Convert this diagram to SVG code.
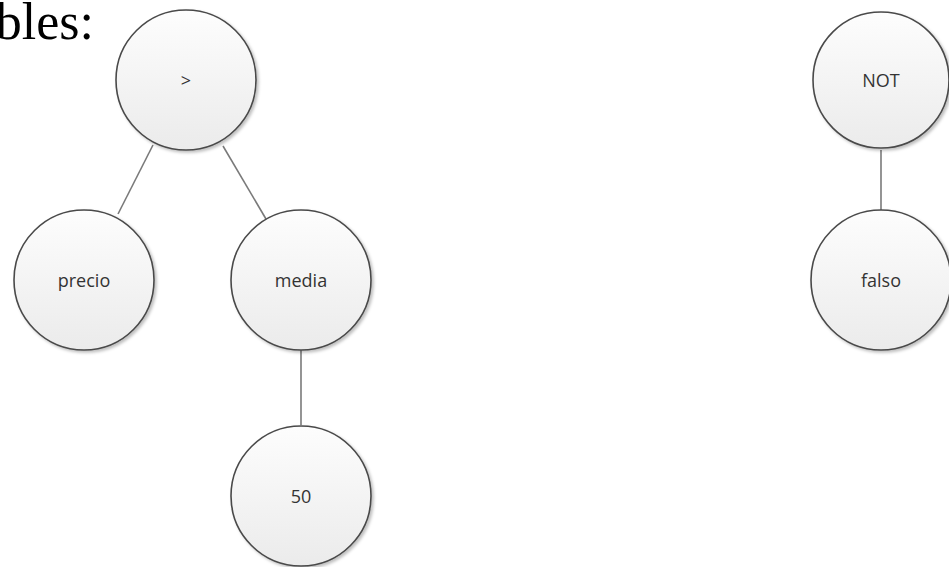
<svg xmlns="http://www.w3.org/2000/svg" width="949" height="567" viewBox="0 0 949 567">
  <defs>
    <linearGradient id="nodeFill" x1="0" y1="0" x2="0" y2="1">
      <stop offset="0" stop-color="#fdfdfd"/>
      <stop offset="1" stop-color="#ebebeb"/>
    </linearGradient>
    <filter id="shade" x="-20%" y="-20%" width="140%" height="140%">
      <feDropShadow dx="2" dy="2" stdDeviation="1.5" flood-color="#000" flood-opacity="0.25"/>
    </filter>
  </defs>
  <style>
    .node circle { fill: url(#nodeFill); stroke: #4a4a4a; stroke-width: 1.6; filter: url(#shade); }
    .node text { font-family: "Open Sans", "Liberation Sans", sans-serif; font-size: 18px; fill: #333; text-anchor: middle; }
    .edge { stroke: #7a7a7a; stroke-width: 1.6; fill: none; }
    .heading { font-family: "Liberation Serif", "DejaVu Serif", serif; font-size: 52px; fill: #000; text-anchor: end; }
  </style>
  <rect width="949" height="567" fill="#fff"/>

  <text class="heading" x="94" y="39">bles:</text>

  <g id="connectors">
    <line class="edge" x1="153" y1="145" x2="118" y2="214"/>
    <line class="edge" x1="223" y1="146" x2="266" y2="219"/>
    <line class="edge" x1="301" y1="350" x2="301" y2="425"/>
    <line class="edge" x1="881" y1="150" x2="881" y2="210"/>
  </g>

  <g id="node-gt" class="node">
    <circle cx="186" cy="80" r="70"/>
    <text x="186" y="87">&gt;</text>
  </g>
  <g id="node-precio" class="node">
    <circle cx="84" cy="280" r="70"/>
    <text x="84" y="287">precio</text>
  </g>
  <g id="node-media" class="node">
    <circle cx="301" cy="280" r="70"/>
    <text x="301" y="287">media</text>
  </g>
  <g id="node-50" class="node">
    <circle cx="301" cy="496" r="70"/>
    <text x="301" y="503">50</text>
  </g>
  <g id="node-not" class="node">
    <circle cx="881" cy="80" r="68"/>
    <text x="881" y="87">NOT</text>
  </g>
  <g id="node-falso" class="node">
    <circle cx="881" cy="280" r="70"/>
    <text x="881" y="287">falso</text>
  </g>
</svg>
